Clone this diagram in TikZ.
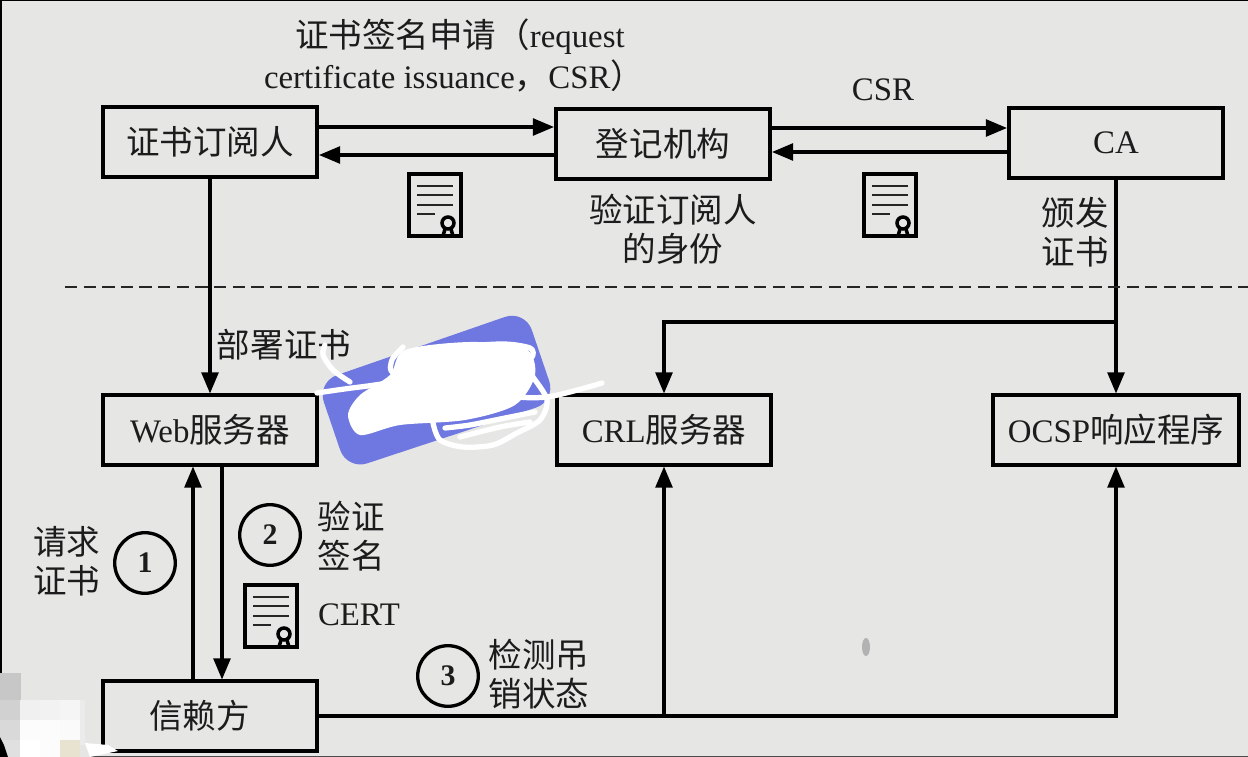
\documentclass[tikz,border=0pt]{standalone}
\usepackage{fontspec}
\setmainfont{Liberation Serif}
\newfontfamily\cjk{Noto Sans CJK SC}[Scale=1.02]
\usepackage{xcolor}
\usetikzlibrary{arrows}
\usetikzlibrary{backgrounds,positioning}
\definecolor{paper}{HTML}{E6E6E4}
\definecolor{ink}{HTML}{1C1C1C}
\definecolor{card}{HTML}{6E78E0}
\definecolor{beige}{HTML}{E8E2D0}
\tikzset{
  boxnode/.style={draw=black,line width=2.3pt,inner sep=0pt,text=ink,font=\fontsize{18.7}{22}\selectfont},
  lbl/.style={text=ink,inner sep=0pt,font=\fontsize{18.7}{22}\selectfont},
  numring/.style={draw=black,circle,line width=1.9pt,minimum size=34.5pt,inner sep=0pt,text=ink,font=\bfseries\fontsize{17}{20}\selectfont},
  link/.style={->,line width=1.8pt,>=triangle 45,draw=black},
  cert/.pic={
    \draw[line width=1.9pt,black] (-26,-31) rectangle (26,31);
    \foreach \ly/\lw in {-19/18,-10/18,0/18,9/0}
      \draw[line width=1.3pt,black!85] (-18,\ly) -- (\lw,\ly);
    \draw[line width=2pt,black] (13,18) circle (6);
    \draw[line width=2pt,black] (8,31) -- (10,24) (18,31) -- (16,24);
  }
}
\begin{document}
\begin{tikzpicture}[x=0.02cm,y=-0.02cm]
      \useasboundingbox (0,0) rectangle (1248,757);
      \fill[paper] (0,0) rectangle (1248,757);
      \fill[black] (0,0) rectangle (1248,1.5);
      \fill[black] (0,0) rectangle (2.5,757);
      \fill[black!70] (90,755.5) rectangle (1248,757);

      \begin{scope}[every node/.append style={boxnode}]
          \node[minimum width=122pt,minimum height=39.5pt] (sub)  at (210,142)  {\cjk 证书订阅人};
          \node[minimum width=122pt,minimum height=39.5pt] (ra)   at (663,144)  {\cjk 登记机构};
          \node[minimum width=122pt,minimum height=39.5pt] (ca)   at (1116,143) {CA};
          \node[minimum width=122pt,minimum height=39.5pt] (web)  at (210,430)  {Web{\cjk 服务器}};
          \node[minimum width=122pt,minimum height=39.5pt] (crl)  at (664,430)  {CRL{\cjk 服务器}};
          \node[minimum width=140pt,minimum height=39.5pt] (ocsp) at (1116,430) {OCSP{\cjk 响应程序}};
          \node[minimum width=122pt,minimum height=39.5pt] (rp)   at (210,716)  {\cjk 信赖方\hspace*{12pt}};
      \end{scope}

      % top row
      \draw[link] (sub.east |- 0,127) -> (ra.west |- 0,127);
      \draw[link] (ra.west |- 0,155)  -> (sub.east |- 0,155);
      \draw[link] (ra.east |- 0,128)  -> (ca.west |- 0,128);
      \draw[link] (ca.west |- 0,152)  -> (ra.east |- 0,152);

      % down to the servers
      \coordinate (fork) at (ca.south |- 0,322);
      \draw[link] (sub) -> (web);
      \draw[link] (ca) -> (ocsp);
      \draw[link] (fork) -| (crl.north);

      % web server and relying party
      \draw[link] (rp.north -| 193,0) -> (web.south -| 193,0);
      \draw[link] (web.south -| 222,0) -> (rp.north -| 222,0);
      \coordinate (tee) at (crl.south |- rp.east);
      \draw[link] (rp.east) -| (ocsp.south);
      \draw[link] (tee) -> (crl.south);

      \coordinate (dashl) at (65,287);
      \coordinate (dashr) at (1248,287);
      \draw[line width=1.1pt,dash pattern=on 7pt off 3.6pt,black!85] (dashl) -- (dashr);

      \node[lbl] (csrreq1) at (460,37) {{\cjk 证书签名申请（}request};
      \node[lbl] (csrreq2) at (454,76) {certificate issuance{\cjk ，}CSR{\cjk ）}};
      \node[lbl] (csrtop)  at (883,90) {CSR};
      \node[lbl,align=center,text width=190pt] (verify) at (673,229) {\cjk\baselineskip=22.7pt 验证订阅人\\的身份};
      \node[lbl,align=center,text width=50pt] (issue) at (1075,232) {\cjk\baselineskip=22.7pt 颁发\\证书};
      \node[lbl] (deploy) at (284,345) {\cjk 部署证书};
      \node[lbl,align=center,text width=50pt] (ask) at (67,561) {\cjk\baselineskip=22.7pt 请求\\证书};
      \node[lbl,align=center,text width=50pt] (sign) at (351,536) {\cjk\baselineskip=22.7pt 验证\\签名};
      \node[lbl] (certtxt) at (359,615) {CERT};
      \node[lbl,align=center,text width=70pt] (check) at (539,674) {\cjk\baselineskip=22.7pt 检测吊\\销状态};

      \node[numring] (one)   at (145,563) {1};
      \node[numring] (two)   at (270,535) {2};
      \node[numring] (three) at (448,676) {3};

      \pic at (435,205) {cert};
      \pic at (890,205) {cert};
      \pic at (271,616) {cert};

      % what was painted over the picture
      \fill[card,rounded corners=12pt] (317,382) -- (525,310) -- (556,401) -- (347,470) -- cycle;
      \begin{scope}[white,line cap=round,line join=round]
          \fill plot[smooth cycle] coordinates {(405,350) (470,342) (525,348) (535,375) (515,405) (465,420) (400,425) (360,435) (348,415) (360,395) (390,375)};
          \draw[line width=3pt] plot[smooth] coordinates {(325,345) (323,355) (333,370) (350,382)};
          \draw[line width=3pt] plot[smooth] coordinates {(317,393) (360,387) (430,380) (500,395) (547,397) (602,383)};
          \draw[line width=3pt] plot[smooth] coordinates {(403,347) (392,360) (395,372) (445,350) (500,344) (530,348) (532,357) (520,360)};
          \draw[line width=3pt] plot[smooth] coordinates {(520,360) (533,377) (547,400) (540,420) (517,433) (493,445) (463,447) (440,440) (433,423)};
          \draw[line width=3pt] plot[smooth] coordinates {(445,428) (470,425) (505,418) (535,412)};
          \draw[line width=3pt] plot[smooth] coordinates {(460,437) (500,427) (530,422)};
          \fill[black!30] (866,647) ellipse (4 and 9);
      \end{scope}

      % blurred corner
      \foreach \px/\py/\hgt/\shade in {0/673/27/78,0/700/20/82,0/720/20/85,0/740/17/88,20/700/20/94,20/720/20/99,20/740/17/100,40/700/20/95,40/720/20/99,40/740/17/99,60/700/20/96,60/720/20/98}
          \fill[white!\shade!black] (\px,\py) rectangle +(20.5,\hgt);
      \fill[beige] (60,740) rectangle (80,757);
      \fill[black!8] (80,700) rectangle (85,745);
      \fill[white] (85,743) -- (108,745) -- (118,751) -- (90,757) -- cycle;
      \fill[black] (0,737) -- (4,745) -- (8,757) -- (0,757) -- cycle;
  \end{tikzpicture}
\end{document}
